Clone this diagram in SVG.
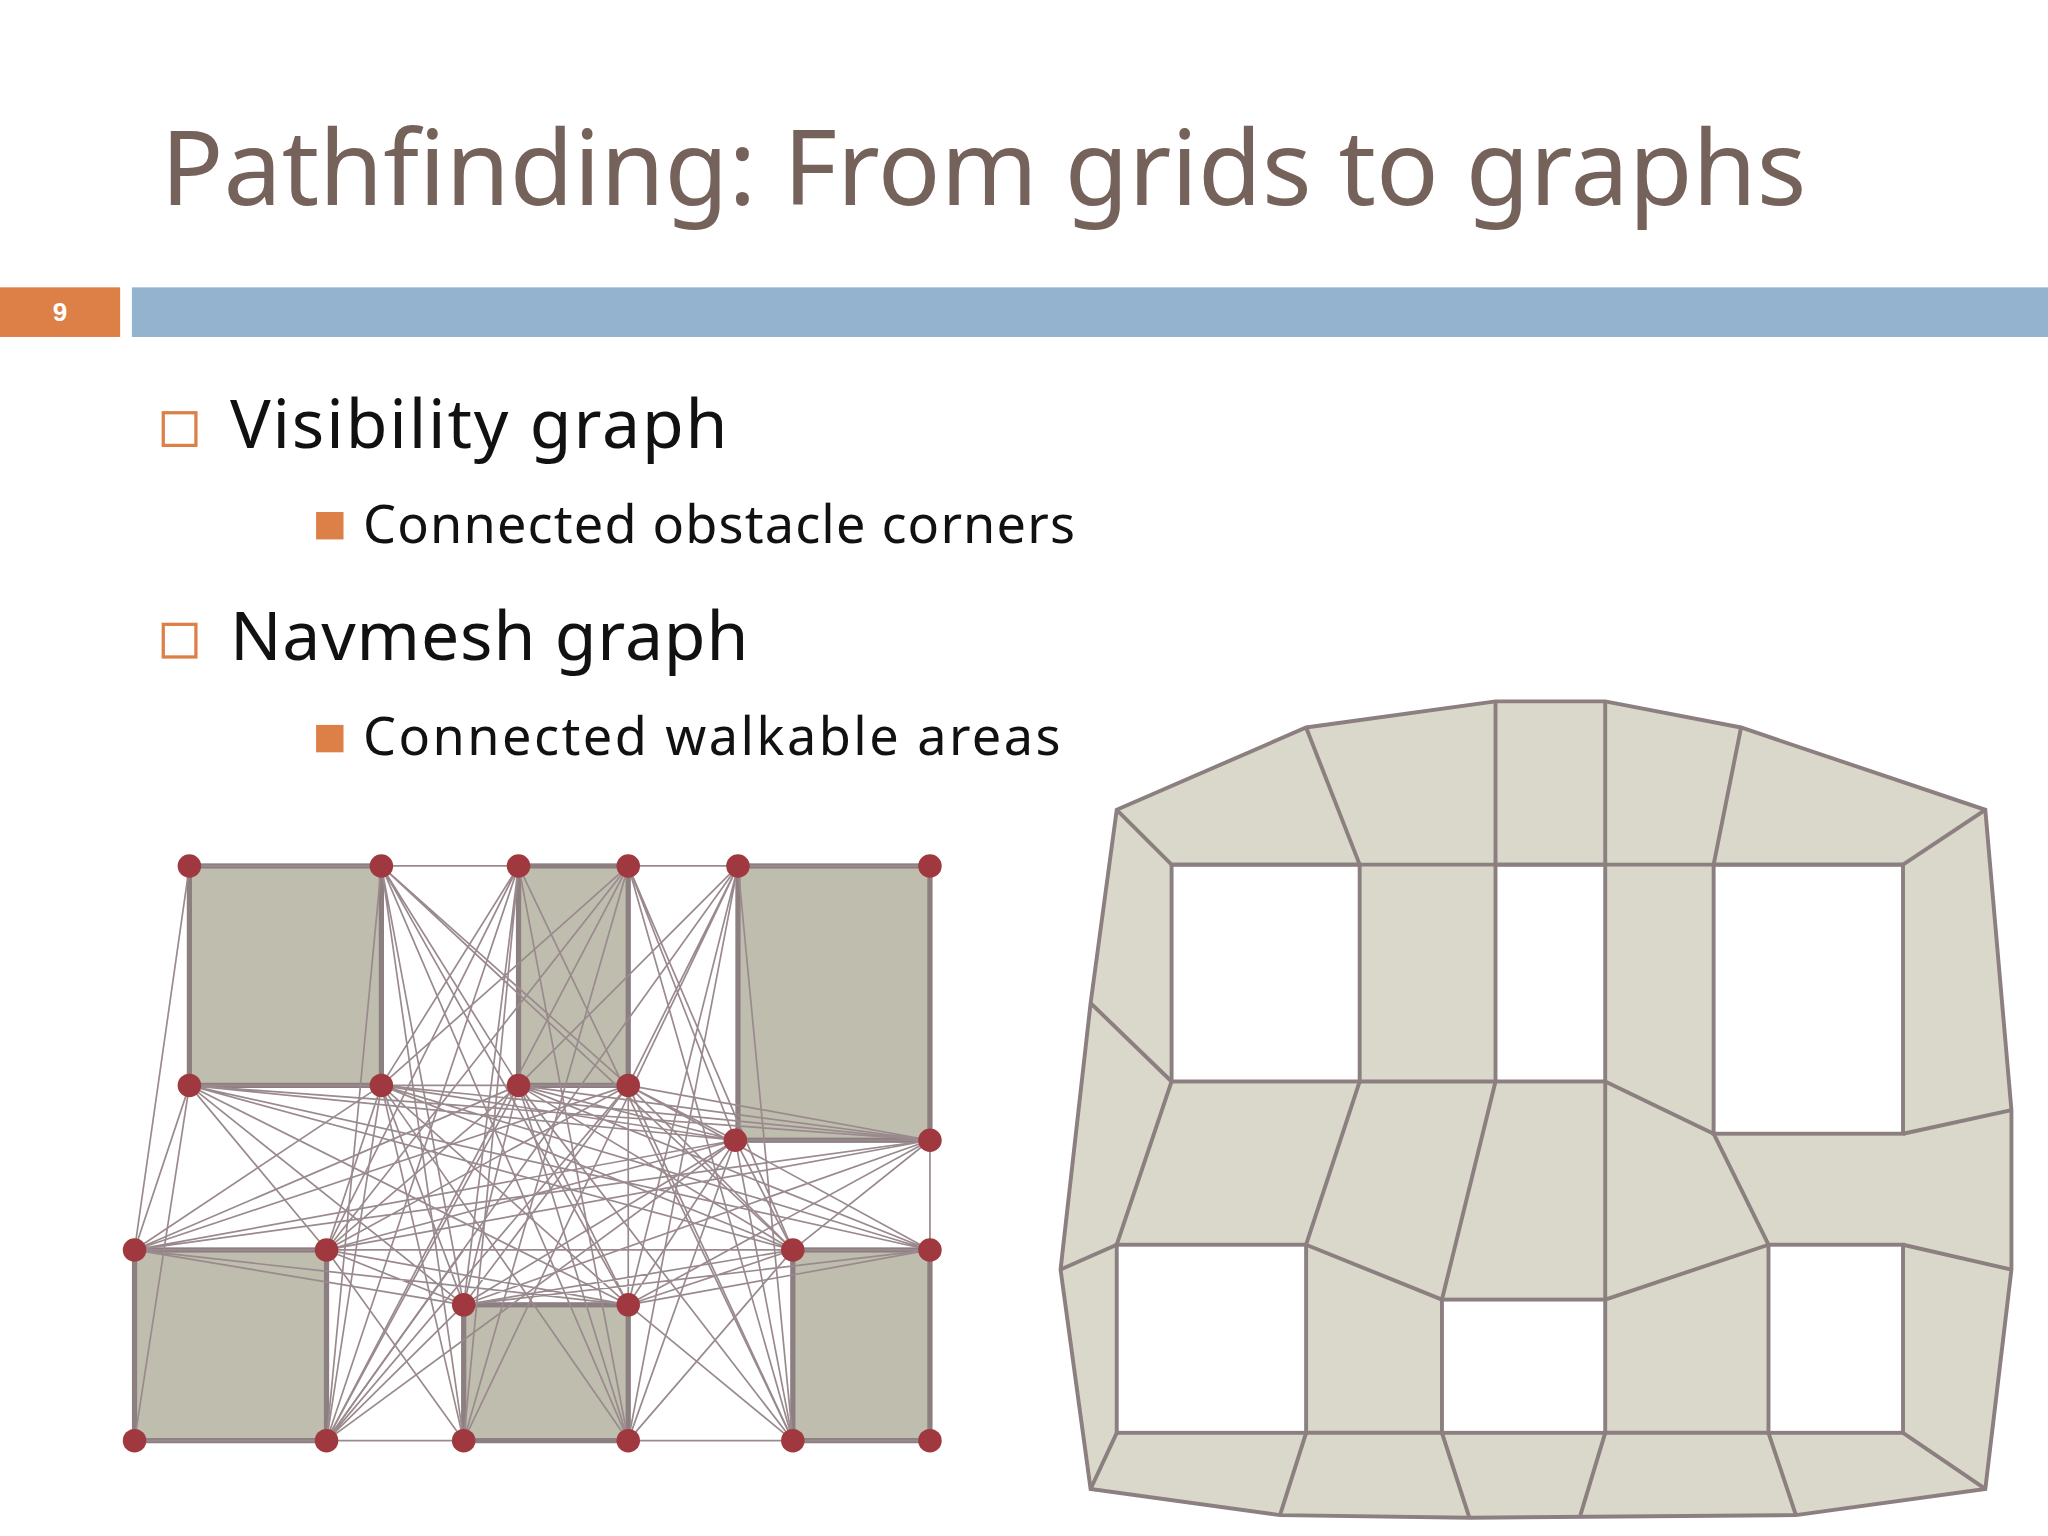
<svg xmlns="http://www.w3.org/2000/svg" width="2048" height="1536" viewBox="0 0 2048 1536">
<style>
.t{font-family:"Noto Sans","Liberation Sans",sans-serif;fill:#111}
.e{stroke:#9a8a8e;stroke-width:1.3}
.ob{fill:#bebdae;stroke:#8c7f80;stroke-width:4}
.n{fill:#a0393f}
.m{stroke:#8c7f80;stroke-width:3;fill:none}
</style>
<rect width="2048" height="1536" fill="#fff"/>
<g transform="scale(1.30612)">
<text x="123" y="157" class="t" style="fill:#75625a" font-size="80" textLength="1260" lengthAdjust="spacingAndGlyphs">Pathfinding: From grids to graphs</text>
<rect x="0" y="220" width="92" height="38" fill="#dd8048"/>
<text x="46" y="246" text-anchor="middle" font-family="Liberation Sans,sans-serif" font-weight="bold" font-size="20" fill="#fff">9</text>
<rect x="101" y="220" width="1467" height="38" fill="#93b3cf"/>
<g id="b1"><rect x="125" y="316" width="25" height="25" fill="none" stroke="#dd8048" stroke-width="2.5"/><text x="176" y="343" class="t" font-size="52" textLength="381">Visibility graph</text></g>
<g id="b2"><rect x="242" y="392" width="21" height="21" fill="#dd8048"/><text x="278" y="416" class="t" font-size="40" textLength="545">Connected obstacle corners</text></g>
<g id="b3"><rect x="125" y="478" width="25" height="25" fill="none" stroke="#dd8048" stroke-width="2.5"/><text x="176" y="505" class="t" font-size="52" textLength="397">Navmesh graph</text></g>
<g id="b4"><rect x="242" y="555" width="21" height="21" fill="#dd8048"/><text x="278" y="578" class="t" font-size="40" textLength="534">Connected walkable areas</text></g>

<g id="obstacles">
<rect class="ob" x="145" y="663" width="147" height="168"/>
<rect class="ob" x="397" y="663" width="84" height="168"/>
<rect class="ob" x="565" y="663" width="147" height="210"/>
<rect class="ob" x="103" y="957" width="147" height="146"/>
<rect class="ob" x="355" y="999" width="126" height="104"/>
<rect class="ob" x="607" y="957" width="105" height="146"/>
</g>
<g id="connectors" class="e">
<path d="M292 663H397M481 663H565M250 1103H355M481 1103H607M145 663L103 957M712 873V957M145 663H292M565 663H712M103 1103H250M607 1103H712"/>
<path d="M145 831L292 831M145 831L397 831M145 831L481 831M145 831L563 873M145 831L712 873M145 831L103 957M145 831L250 957M145 831L607 957M145 831L712 957M145 831L355 999M145 831L481 999
M292 831L397 831M292 831L563 873M292 831L712 873M292 831L103 957M292 831L250 957M292 831L607 957M292 831L712 957M292 831L355 999M292 831L481 999
M397 831L563 873M397 831L712 873M397 831L103 957M397 831L250 957M397 831L607 957M397 831L712 957M397 831L355 999M397 831L481 999
M481 831L563 873M481 831L712 873M481 831L103 957M481 831L250 957M481 831L607 957M481 831L712 957M481 831L355 999M481 831L481 999
M563 873L712 873M563 873L103 957M563 873L250 957M563 873L607 957M563 873L355 999M563 873L481 999
M712 873L103 957M712 873L250 957M712 873L607 957M712 873L355 999M712 873L481 999
M103 957L607 957M103 957L355 999M103 957L481 999M250 957L712 957M250 957L355 999M250 957L481 999M250 957L607 957
M607 957L355 999M607 957L481 999M712 957L355 999M712 957L481 999M712 957L103 957"/>
<path d="M292 663L397 831M292 663L481 831M292 663L355 999M292 663L481 999M292 663L607 957M292 663L250 1103M292 663L355 1103M292 663L481 1103
M397 663L292 831M397 663L250 957M397 663L355 999M397 663L250 1103M397 663L355 1103M397 663L481 1103M397 663L607 1103
M481 663L563 873M481 663L607 957M481 663L607 1103M481 663L355 1103M481 663L250 1103M481 663L292 831M481 663L250 957
M565 663L481 831M565 663L397 831M565 663L481 999M565 663L355 1103M565 663L481 1103M565 663L607 1103M565 663L250 1103"/>
<path d="M250 1103L355 999M250 1103L292 831M250 1103L397 831M250 1103L481 831M250 1103L563 873M250 1103L355 957
M355 1103L250 957M355 1103L292 831M481 1103L607 957M481 1103L563 873M481 1103L397 831M481 1103L292 831
M607 1103L481 999M607 1103L481 831M607 1103L563 873M607 1103L397 831M103 1103L145 831"/>
</g>
<g id="nodes" class="n">
<circle cx="145" cy="663" r="9"/><circle cx="292" cy="663" r="9"/><circle cx="397" cy="663" r="9"/><circle cx="481" cy="663" r="9"/><circle cx="565" cy="663" r="9"/><circle cx="712" cy="663" r="9"/>
<circle cx="145" cy="831" r="9"/><circle cx="292" cy="831" r="9"/><circle cx="397" cy="831" r="9"/><circle cx="481" cy="831" r="9"/>
<circle cx="563" cy="873" r="9"/><circle cx="712" cy="873" r="9"/>
<circle cx="103" cy="957" r="9"/><circle cx="250" cy="957" r="9"/><circle cx="607" cy="957" r="9"/><circle cx="712" cy="957" r="9"/>
<circle cx="355" cy="999" r="9"/><circle cx="481" cy="999" r="9"/>
<circle cx="103" cy="1103" r="9"/><circle cx="250" cy="1103" r="9"/><circle cx="355" cy="1103" r="9"/><circle cx="481" cy="1103" r="9"/><circle cx="607" cy="1103" r="9"/><circle cx="712" cy="1103" r="9"/>
</g>

<g id="navmesh">
<polygon points="855,620 1000,557 1145,537 1229,537 1333,557 1520,620 1540,850 1540,972 1520,1140 1375,1160 1125,1162 980,1160 835,1140 812,972 835,768" fill="#dad8cb" stroke="#8c7f80" stroke-width="3"/>
<g fill="#fff" stroke="#8c7f80" stroke-width="3">
<rect x="897" y="662" width="144" height="166"/><rect x="1145" y="662" width="84" height="166"/><rect x="1312" y="662" width="145" height="206"/>
<rect x="855" y="953" width="145" height="144"/><rect x="1104" y="995" width="125" height="102"/><rect x="1354" y="953" width="103" height="144"/>
</g>
<path class="m" d="M855 620L897 662M1000 557L1041 662M1145 537V662M1229 537V662M1333 557L1312 662M1520 620L1457 662M897 662H1457M1041 828H1145
M835 768L897 828M1229 828L1312 868M1457 868L1540 850M1312 868L1354 953M1457 953L1540 972
M897 828L855 953M1041 828L1000 953M1145 828L1104 995M1229 828V995M812 972L855 953M1000 953L1104 995M1229 995L1354 953
M855 1097L835 1140M1000 1097L980 1160M1104 1097L1125 1162M1229 1097L1210 1160M1354 1097L1375 1160M1457 1097L1520 1140M1000 1097H1104M1229 1097H1354"/>
</g>
</g>
</svg>
